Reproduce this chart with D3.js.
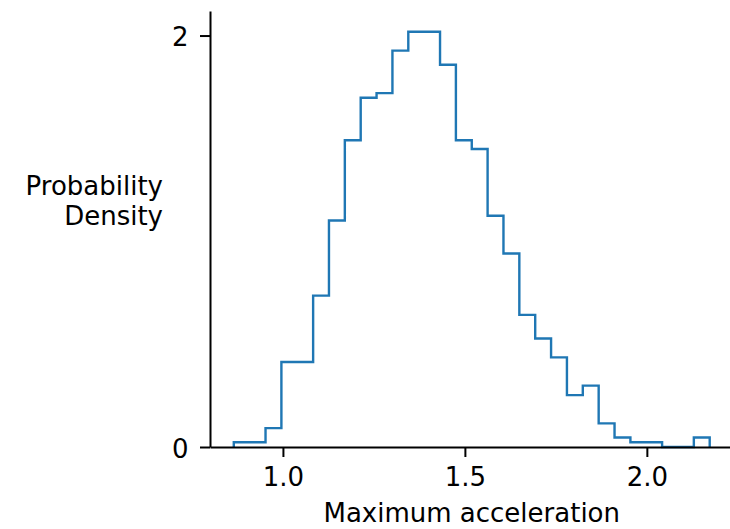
<!DOCTYPE html>
<html>
<head>
<meta charset="utf-8">
<script src="https://cdn.jsdelivr.net/npm/d3@7"></script>
<style>
  body { margin: 0; background: #fff; }
  text { font-family: "DejaVu Sans", sans-serif; }
</style>
</head>
<body>
<script>
// histogram bin edges (maximum acceleration)
var binEdges = [0.8650, 0.9086, 0.9522, 0.9958, 1.0394, 1.0830, 1.1265, 1.1701, 1.2137, 1.2573,
                1.3009, 1.3445, 1.3881, 1.4317, 1.4753, 1.5189, 1.5624, 1.6060, 1.6496, 1.6932,
                1.7368, 1.7804, 1.8240, 1.8676, 1.9112, 1.9548, 1.9983, 2.0419, 2.0855, 2.1291, 2.1727];
// samples per bin
var binCounts = [1, 1, 4, 18, 18, 32, 48, 65, 74, 75, 84, 88, 88, 81, 65, 63, 49, 41, 28, 23,
                 19, 11, 13, 5, 2, 1, 1, 0, 0, 2];
var xTicks = [1.0, 1.5, 2.0];
var yTicks = [0, 2];
var xLabel = "Maximum acceleration";
var yLabel = ["Probability", "Density"];

var width = 730, height = 529;
var mLeft = 210, mRight = 733.5, mTop = 11, mBottom = 447;
var fontSize = 26;

var total = d3.sum(binCounts);
var density = binCounts.map(function(c, i) {
  return c / (total * (binEdges[i + 1] - binEdges[i]));
});

var svg = d3.select("body").append("svg")
  .attr("width", width)
  .attr("height", height);

var xMin = binEdges[0], xMax = binEdges[binEdges.length - 1];
var pad = (xMax - xMin) * 0.05;
var x = d3.scaleLinear().domain([xMin - pad, xMax + pad]).range([mLeft, mRight]);
var y = d3.scaleLinear().domain([0, d3.max(density) * 1.05]).range([mBottom, mTop]);

// step outline
var pts = [[binEdges[0], 0]];
density.forEach(function(d, i) {
  pts.push([binEdges[i], d]);
  pts.push([binEdges[i + 1], d]);
});
pts.push([binEdges[binEdges.length - 1], 0]);

svg.append("path")
  .datum(pts)
  .attr("fill", "none")
  .attr("stroke", "#1f77b4")
  .attr("stroke-width", 2.4)
  .attr("stroke-linejoin", "miter")
  .attr("d", d3.line().x(function(d) { return x(d[0]); }).y(function(d) { return y(d[1]); }));

var xAxis = svg.append("g")
  .attr("transform", "translate(0," + mBottom + ")")
  .call(d3.axisBottom(x).tickValues(xTicks).tickFormat(d3.format(".1f"))
    .tickSize(10).tickSizeOuter(0).tickPadding(10.5));

var yAxis = svg.append("g")
  .attr("transform", "translate(" + mLeft + ",0)")
  .call(d3.axisLeft(y).tickValues(yTicks).tickFormat(d3.format("d"))
    .tickSize(10).tickSizeOuter(0).tickPadding(11.5));

[xAxis, yAxis].forEach(function(g) {
  g.select(".domain").attr("stroke", "#000").attr("stroke-width", 2);
  g.selectAll(".tick line").attr("stroke", "#000").attr("stroke-width", 2);
  g.selectAll(".tick text")
    .attr("fill", "#000")
    .style("font-family", "'DejaVu Sans', sans-serif")
    .style("font-size", fontSize + "px");
});
yAxis.selectAll(".tick text").attr("dy", "0.4em");

svg.append("text")
  .attr("x", (mLeft + mRight) / 2)
  .attr("y", 522)
  .attr("text-anchor", "middle")
  .style("font-size", fontSize + "px")
  .text(xLabel);

svg.append("text")
  .attr("text-anchor", "end")
  .style("font-size", fontSize + "px")
  .selectAll("tspan")
  .data(yLabel)
  .enter().append("tspan")
    .attr("x", 163)
    .attr("y", function(d, i) { return 194.5 + i * 30.5; })
    .text(function(d) { return d; });
</script>
</body>
</html>
